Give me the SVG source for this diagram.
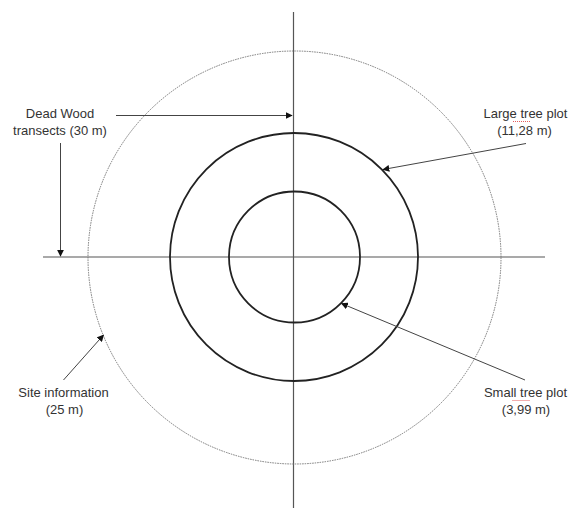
<svg xmlns="http://www.w3.org/2000/svg" width="568" height="508" viewBox="0 0 568 508">
<defs>
<marker id="ah" viewBox="0 0 10 10" refX="9" refY="5" markerWidth="7" markerHeight="7" markerUnits="userSpaceOnUse" orient="auto">
<path d="M0,0 L10,5 L0,10 Z" fill="#111"/>
</marker>
</defs>
<style>
.lbl{font-family:"Liberation Sans",Arial,sans-serif;font-size:13px;fill:#333;text-anchor:middle}
.axis{stroke:#555;stroke-width:1.2;fill:none}
.ring{stroke:#222;stroke-width:1.8;fill:none}
.outer{stroke:#777;stroke-width:1;stroke-dasharray:1.5 1;fill:none}
.conn{stroke:#444;stroke-width:1;fill:none;marker-end:url(#ah)}
.squig{stroke:#d33;stroke-width:0.8;stroke-dasharray:1 1;fill:none}
</style>
<rect width="568" height="508" fill="#fff"/>
<g id="axes">
<line class="axis" x1="293.5" y1="12" x2="293.5" y2="508"/>
<line class="axis" x1="43" y1="257" x2="545" y2="257"/>
</g>
<g id="site-circle"><circle class="outer" cx="294.5" cy="257.5" r="206.5"/></g>
<g id="large-circle"><circle class="ring" cx="294" cy="257" r="124"/></g>
<g id="small-circle"><circle class="ring" cx="294.5" cy="257" r="65.5"/></g>
<g id="connectors">
<line class="conn" x1="116" y1="115.5" x2="292" y2="115.5"/>
<line class="conn" x1="60.5" y1="143" x2="60.5" y2="256"/>
<line class="conn" x1="526" y1="143.5" x2="383" y2="169.5"/>
<line class="conn" x1="525" y1="380" x2="341.5" y2="303.5"/>
<line class="conn" x1="63.5" y1="380" x2="103.5" y2="335"/>
</g>
<g id="dead-wood">
<text class="lbl" x="60" y="118">Dead Wood</text>
<text class="lbl" x="60" y="134.5">transects (30 m)</text>
</g>
<g id="large-tree">
<text class="lbl" x="525.5" y="118">Large tree plot</text>
<text class="lbl" x="524.5" y="134.5">(11,28 m)</text>
<path class="squig" d="M513,121.5 H531"/>
</g>
<g id="small-tree">
<text class="lbl" x="525.5" y="397">Small tree plot</text>
<text class="lbl" x="526" y="413.5">(3,99 m)</text>
<path class="squig" d="M512.5,400.5 H530.5"/>
</g>
<g id="site-info">
<text class="lbl" x="63.5" y="397">Site information</text>
<text class="lbl" x="64.5" y="413.5">(25 m)</text>
</g>
</svg>
